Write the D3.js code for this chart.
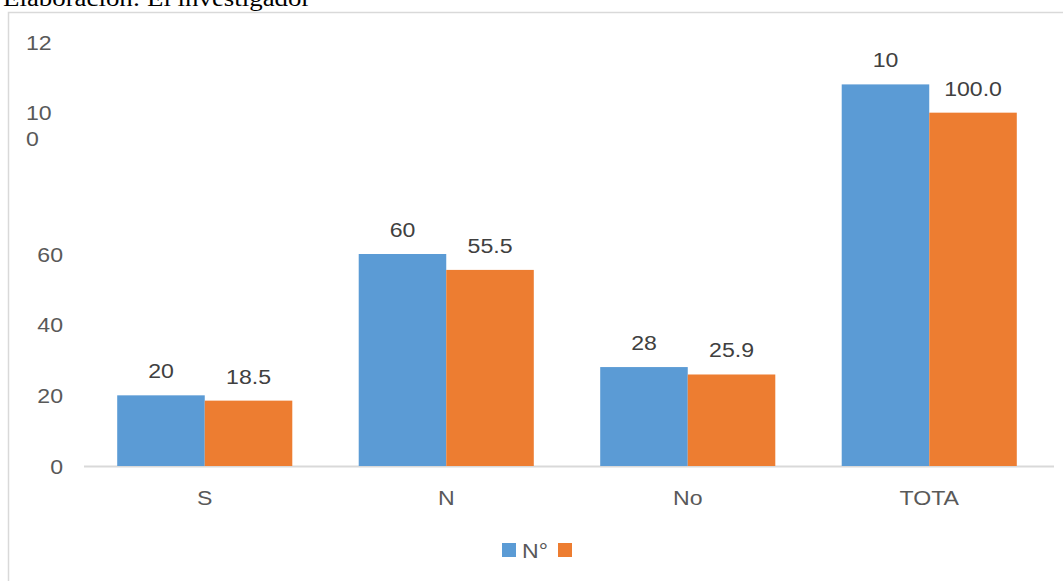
<!DOCTYPE html>
<html>
<head>
<meta charset="utf-8">
<script src="https://cdn.jsdelivr.net/npm/d3@7"></script>
<style>
  body { margin: 0; background: #fff; }
  svg { display: block; }
</style>
</head>
<body>
<div id="chart"></div>
<script>
// data
var categories = ["S", "N", "No", "TOTA"];
var seriesNames = ["N°", ""];
var countValues = [20, 60, 28, 108];
var percentValues = [18.5, 55.5, 25.9, 100.0];
var countLabels = ["20", "60", "28", "10"];      // last one is cut in the original
var percentLabels = ["18.5", "55.5", "25.9", "100.0"];
var tickValues = [0, 20, 40, 60, 80, 100, 120];
var tickLabels = ["0", "20", "40", "60", "", "10\n0", "12"];

var colors = ["#5b9bd5", "#ed7d31"];
var stretch = 1.1; // text in the picture looks widened

var svg = d3.select("#chart")
  .append("svg")
  .attr("width", 1063)
  .attr("height", 581);

// caption cut off at the top
svg.append("text")
  .attr("transform", "translate(3,6) scale(1.12,1)")
  .style("font-family", "'Liberation Serif', 'Times New Roman', serif")
  .style("font-size", "24px")
  .style("fill", "#000")
  .text("Elaboración: El investigador");

// chart border
svg.append("rect")
  .attr("x", 8.5).attr("y", 12.5)
  .attr("width", 1100).attr("height", 600)
  .style("fill", "none")
  .style("stroke", "#d9d9d9")
  .style("stroke-width", 1.5);

var x = d3.scaleBand()
  .domain(categories)
  .range([84, 1050])
  .paddingInner(0.275)
  .paddingOuter(0.1375);

var xs = d3.scaleBand()
  .domain([0, 1])
  .range([0, x.bandwidth()]);

var y = d3.scaleLinear()
  .domain([0, 120])
  .range([466, 42]);

function stext(sel, px, py) {
  return sel.attr("transform", "translate(" + px + "," + py + ") scale(" + stretch + ",1)");
}

// y tick labels (two of them truncated / wrapped like the original)
var ticks = svg.append("g").attr("class", "yticks");
tickValues.forEach(function(v, i) {
  var lab = tickLabels[i];
  if (!lab) return;
  var full = String(v);
  var lines = lab.split("\n");
  var truncated = lines[0].length < full.length;
  var t = ticks.append("text")
    .style("font-family", "'Liberation Sans', Arial, sans-serif")
    .style("font-size", "21px")
    .style("fill", "#595959")
    .attr("text-anchor", truncated ? "start" : "end");
  stext(t, truncated ? 26 : 63, y(v) + 7.5);
  lines.forEach(function(l, j) {
    t.append("tspan")
      .attr("x", 0)
      .attr("dy", j == 0 ? 0 : 26)
      .text(l);
  });
});

// baseline
svg.append("line")
  .attr("x1", x.range()[0]).attr("x2", x.range()[1] + 4)
  .attr("y1", y(0) + 0.5).attr("y2", y(0) + 0.5)
  .style("stroke", "#d9d9d9")
  .style("stroke-width", 2);

var rows = categories.map(function(c, i) {
  return { cat: c, vals: [countValues[i], percentValues[i]], labs: [countLabels[i], percentLabels[i]] };
});

var group = svg.selectAll(".cat")
  .data(rows)
  .enter().append("g")
  .attr("class", "cat")
  .attr("transform", function(d) { return "translate(" + x(d.cat) + ",0)"; });

group.selectAll("rect")
  .data(function(d) { return d.vals.map(function(v, k) { return { k: k, v: v }; }); })
  .enter().append("rect")
  .attr("x", function(d) { return xs(d.k); })
  .attr("y", function(d) { return y(d.v); })
  .attr("width", xs.bandwidth())
  .attr("height", function(d) { return y(0) - y(d.v); })
  .style("fill", function(d) { return colors[d.k]; });

// value labels
group.each(function(d) {
  var g = d3.select(this);
  d.vals.forEach(function(v, k) {
    var t = g.append("text")
      .attr("text-anchor", "middle")
      .style("font-family", "'Liberation Sans', Arial, sans-serif")
      .style("font-size", "21px")
      .style("fill", "#404040")
      .text(d.labs[k]);
    stext(t, xs(k) + xs.bandwidth() / 2, y(v) - 17);
  });
});

// category labels
categories.forEach(function(c) {
  var t = svg.append("text")
    .attr("text-anchor", "middle")
    .style("font-family", "'Liberation Sans', Arial, sans-serif")
    .style("font-size", "21px")
    .style("fill", "#595959")
    .text(c);
  stext(t, x(c) + x.bandwidth() / 2, 505);
});

// legend
var legend = svg.append("g").attr("transform", "translate(502,543)");
legend.append("rect").attr("x", 0).attr("y", 0).attr("width", 14).attr("height", 14).style("fill", colors[0]);
stext(legend.append("text")
  .style("font-family", "'Liberation Sans', Arial, sans-serif")
  .style("font-size", "21px")
  .style("fill", "#595959")
  .text(seriesNames[0]), 20, 15);
legend.append("rect").attr("x", 56).attr("y", 0).attr("width", 14).attr("height", 14).style("fill", colors[1]);
</script>
</body>
</html>
